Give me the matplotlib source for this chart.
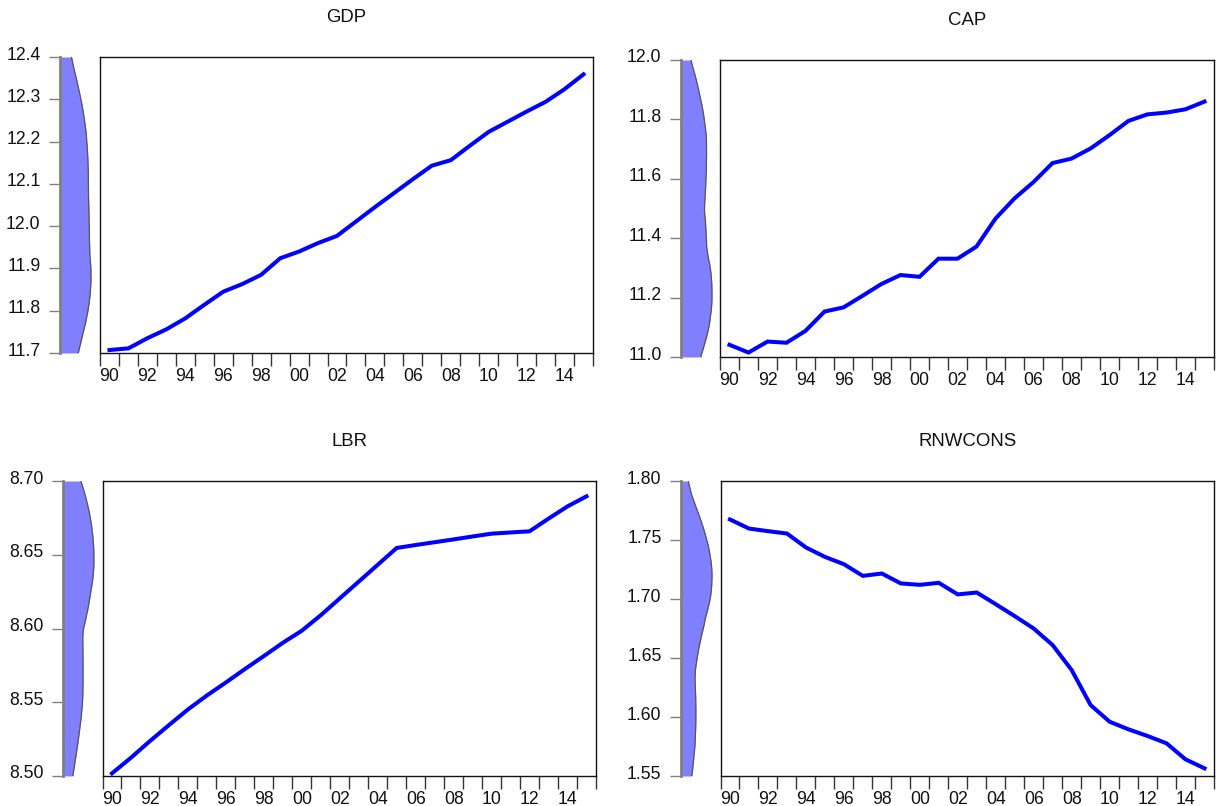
import numpy as np
import matplotlib
matplotlib.use('Agg')
import matplotlib.pyplot as plt
import matplotlib.transforms as mtransforms

plt.rcParams['font.family'] = ['Liberation Sans', 'DejaVu Sans']

# annual series 1990-2015 (log levels)
years = np.arange(1990, 2016)

gdp = [11.707, 11.711, 11.735, 11.756, 11.782, 11.814, 11.845, 11.863, 11.885, 11.924,
       11.940, 11.960, 11.977, 12.011, 12.045, 12.078, 12.111, 12.143, 12.156, 12.190,
       12.223, 12.247, 12.271, 12.294, 12.324, 12.359]

cap = [11.041, 11.015, 11.052, 11.048, 11.088, 11.153, 11.167, 11.206, 11.246, 11.276,
       11.270, 11.331, 11.331, 11.372, 11.466, 11.534, 11.589, 11.653, 11.668, 11.702,
       11.747, 11.795, 11.817, 11.823, 11.834, 11.860]

lbr = [8.5018, 8.5124, 8.5237, 8.5345, 8.5451, 8.5546, 8.5634, 8.5725, 8.5813, 8.5903,
       8.5985, 8.6090, 8.6204, 8.6318, 8.6432, 8.6546, 8.6566, 8.6585, 8.6604, 8.6624,
       8.6643, 8.6651, 8.6659, 8.6745, 8.6828, 8.6896]

rnwcons = [1.7674, 1.7597, 1.7575, 1.7555, 1.7437, 1.7357, 1.7295, 1.7196, 1.7216, 1.7132,
           1.7120, 1.7137, 1.7039, 1.7055, 1.6956, 1.6855, 1.6750, 1.6609, 1.6398, 1.6101,
           1.5960, 1.5895, 1.5839, 1.5777, 1.5641, 1.5565]

titles = ['GDP', 'CAP', 'LBR', 'RNWCONS']
series = [gdp, cap, lbr, rnwcons]
yticks = [np.arange(11.7, 12.41, 0.1), np.arange(11.0, 12.01, 0.2),
          np.arange(8.50, 8.701, 0.05), np.arange(1.55, 1.801, 0.05)]
yfmt = ['%.1f', '%.1f', '%.2f', '%.2f']

W, H = 1223, 806
# pixel boxes (left, top, right, bottom) for main plot and density strip
main_px = [(100, 57, 593, 353), (720, 60, 1214, 357),
           (102.5, 481, 596, 776), (720.5, 481, 1214, 776)]
dens_px = [(60, 57, 94, 353), (681, 60, 715, 357),
           (63, 481, 97, 776), (681, 481, 715, 776)]


def rect(b):
    x0, y0, x1, y1 = b
    return [x0 / W, 1 - y1 / H, (x1 - x0) / W, (y1 - y0) / H]


def epan_kde(x, grid):
    x = np.asarray(x)
    n = len(x)
    s = x.std(ddof=1)
    q75, q25 = np.percentile(x, [75, 25])
    h = 0.9 * 2.34 * n ** (-0.2) * min(s, (q75 - q25) / 1.34)
    u = (grid[:, None] - x[None, :]) / h
    k = np.where(np.abs(u) < 1, 0.75 * (1 - u ** 2), 0.0)
    return k.sum(axis=1) / (n * h)


fig = plt.figure(figsize=(W / 100, H / 100), dpi=100)
shift_up = mtransforms.ScaledTranslation(0, 4 / 100, fig.dpi_scale_trans)

for i in range(4):
    y = series[i]
    lo, hi = yticks[i][0], yticks[i][-1]

    # main line panel
    ax = fig.add_axes(rect(main_px[i]))
    ax.plot(years + 0.5, y, color='#0000ff', lw=2.9, solid_joinstyle='miter')
    ax.set_xlim(1990, 2016)
    ax.set_ylim(lo, hi)
    ax.set_yticks([])
    ax.set_xticks(np.arange(1990, 2017))
    ax.set_xticklabels([])
    ax.tick_params(axis='x', which='major', direction='out', length=9, width=1, color='#333333')
    lab_years = np.arange(1990, 2016, 2)
    ax.set_xticks(lab_years + 0.5, minor=True)
    ax.set_xticklabels(['%02d' % (yy % 100) for yy in lab_years], minor=True)
    ax.tick_params(axis='x', which='minor', length=0, pad=11, labelsize=12.7, labelcolor='#111111')
    for sp in ax.spines.values():
        sp.set_color('#111111')
        sp.set_linewidth(1.0)
    ax.set_title(titles[i], fontsize=13.4, pad=25, color='#111111')

    # kernel density strip
    grid = np.linspace(lo, hi, 300)
    d = epan_kde(y, grid)
    axd = fig.add_axes(rect(dens_px[i]))
    axd.fill_betweenx(grid, 0, d, color='#8080ff', lw=0)
    axd.plot(d, grid, color='#555555', lw=0.9)
    axd.set_xlim(0, d.max() * 34 / 31)
    axd.set_ylim(lo, hi)
    axd.set_xticks([])
    for nm in ['top', 'right', 'bottom']:
        axd.spines[nm].set_visible(False)
    axd.spines['left'].set_color('#808080')
    axd.spines['left'].set_linewidth(2.0)
    axd.set_yticks(yticks[i])
    axd.set_yticklabels([yfmt[i] % v for v in yticks[i]])
    axd.tick_params(axis='y', direction='out', length=8, width=1, color='#808080',
                    pad=6, labelsize=12.7, labelcolor='#111111')
    for lab in axd.get_yticklabels():
        lab.set_transform(lab.get_transform() + shift_up)
    axd.patch.set_alpha(0)

fig.savefig('out.png', dpi=100)
